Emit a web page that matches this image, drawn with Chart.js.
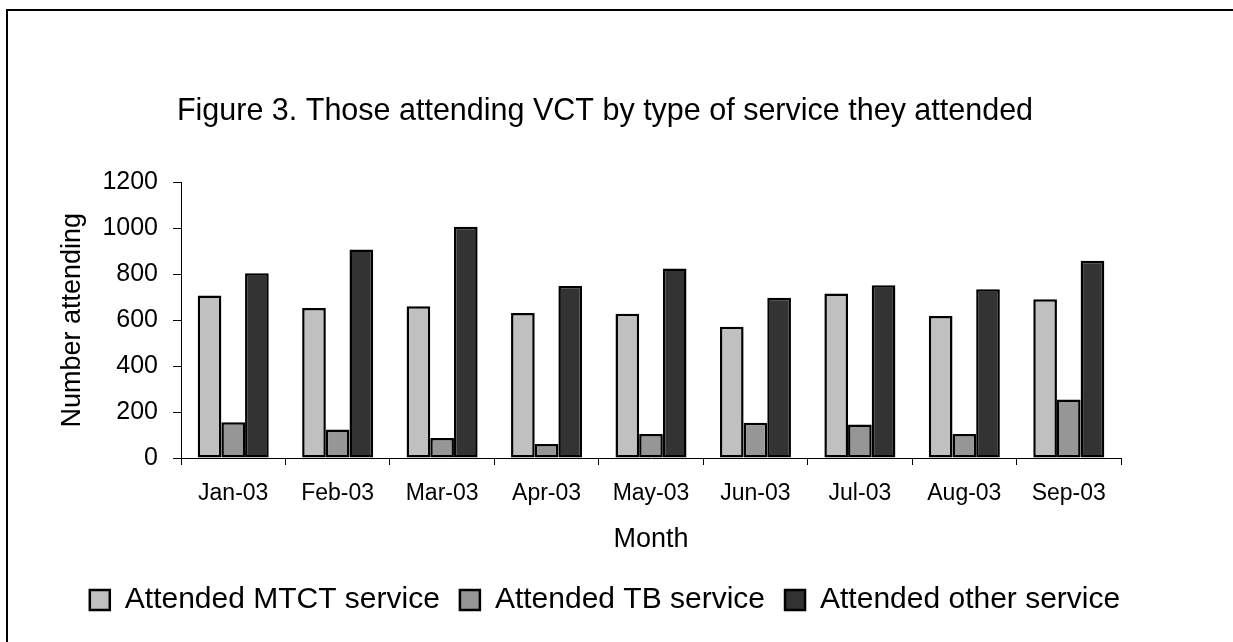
<!DOCTYPE html>
<html>
<head>
<meta charset="utf-8">
<script src="https://cdn.jsdelivr.net/npm/chart.js@4"></script>
<style>
  html, body { margin: 0; padding: 0; background: #fff; overflow: hidden; }
  #frame { position: absolute; left: 6px; top: 9px; width: 2000px; height: 2000px;
           border-top: 2px solid #000; border-left: 2px solid #000; }
  #wrap { position: absolute; left: 0; top: 0; width: 1233px; height: 642px; }
</style>
</head>
<body>
<div id="frame"></div>
<div id="wrap"><canvas id="vctChart"></canvas></div>
<script>
const months = ['Jan-03', 'Feb-03', 'Mar-03', 'Apr-03', 'May-03', 'Jun-03', 'Jul-03', 'Aug-03', 'Sep-03'];
const mtct = [708, 654, 661, 632, 629, 572, 717, 619, 692];
const tb = [156, 124, 87, 61, 105, 154, 146, 105, 255];
const other = [805, 909, 1008, 749, 826, 698, 753, 735, 859];
const yTicks = [0, 200, 400, 600, 800, 1000, 1200];

const font = "'Liberation Sans', Arial, sans-serif";

const ctx = document.getElementById('vctChart').getContext('2d');
new Chart(ctx, {
    type: 'bar',
    data: {
        labels: months,
        datasets: [
            { label: 'Attended MTCT service', data: mtct, backgroundColor: '#C0C0C0' },
            { label: 'Attended TB service', data: tb, backgroundColor: '#969696' },
            { label: 'Attended other service', data: other, backgroundColor: '#333333' },
        ].map(d => ({ ...d, borderColor: '#000', borderWidth: 2.5, borderSkipped: false,
                      categoryPercentage: 0.68, barPercentage: 1 })),
    },
    options: {
        responsive: true,
        maintainAspectRatio: false,
        animation: false,
        color: '#000',
        layout: { padding: { left: 40, right: 63, top: 0, bottom: 17 } },
        plugins: {
            title: {
                display: true,
                text: 'Figure 3. Those attending VCT by type of service they attended',
                color: '#000',
                font: { family: font, size: 30.5, weight: 'normal' },
                padding: { top: 93, bottom: 53 },
            },
            legend: {
                position: 'bottom',
                labels: {
                    color: '#000',
                    font: { family: font, size: 30 },
                    boxWidth: 20,
                    boxHeight: 20,
                    padding: 20,
                },
            },
            tooltip: { enabled: false },
        },
        scales: {
            x: {
                grid: { offset: true, drawOnChartArea: false, tickLength: 7, color: '#000' },
                border: { color: '#000', width: 1 },
                ticks: { color: '#000', font: { family: font, size: 23 }, padding: 15,
                         maxRotation: 0, autoSkip: false },
                title: { display: true, text: 'Month', color: '#000',
                         font: { family: font, size: 27 }, padding: { top: 1, bottom: 9 } },
            },
            y: {
                min: 0,
                max: 1200,
                afterBuildTicks: s => { s.ticks = yTicks.map(v => ({ value: v })); },
                afterFit: s => { s.width = 141; },
                grid: { drawOnChartArea: false, tickLength: 8, color: '#000' },
                border: { color: '#000', width: 1 },
                ticks: { color: '#000', font: { family: font, size: 25 }, padding: 15,
                         callback: v => String(v) },
                title: { display: true, text: 'Number attending', color: '#000',
                         font: { family: font, size: 27 }, padding: { top: 16, bottom: 0 } },
            },
            // empty right-hand spacer so title and legend sit where the reference has them
            spacer: {
                type: 'linear',
                position: 'right',
                grid: { display: false },
                border: { display: false },
                ticks: { display: false },
                afterFit: s => { s.width = 49; },
            },
        },
    },
});
</script>
</body>
</html>
